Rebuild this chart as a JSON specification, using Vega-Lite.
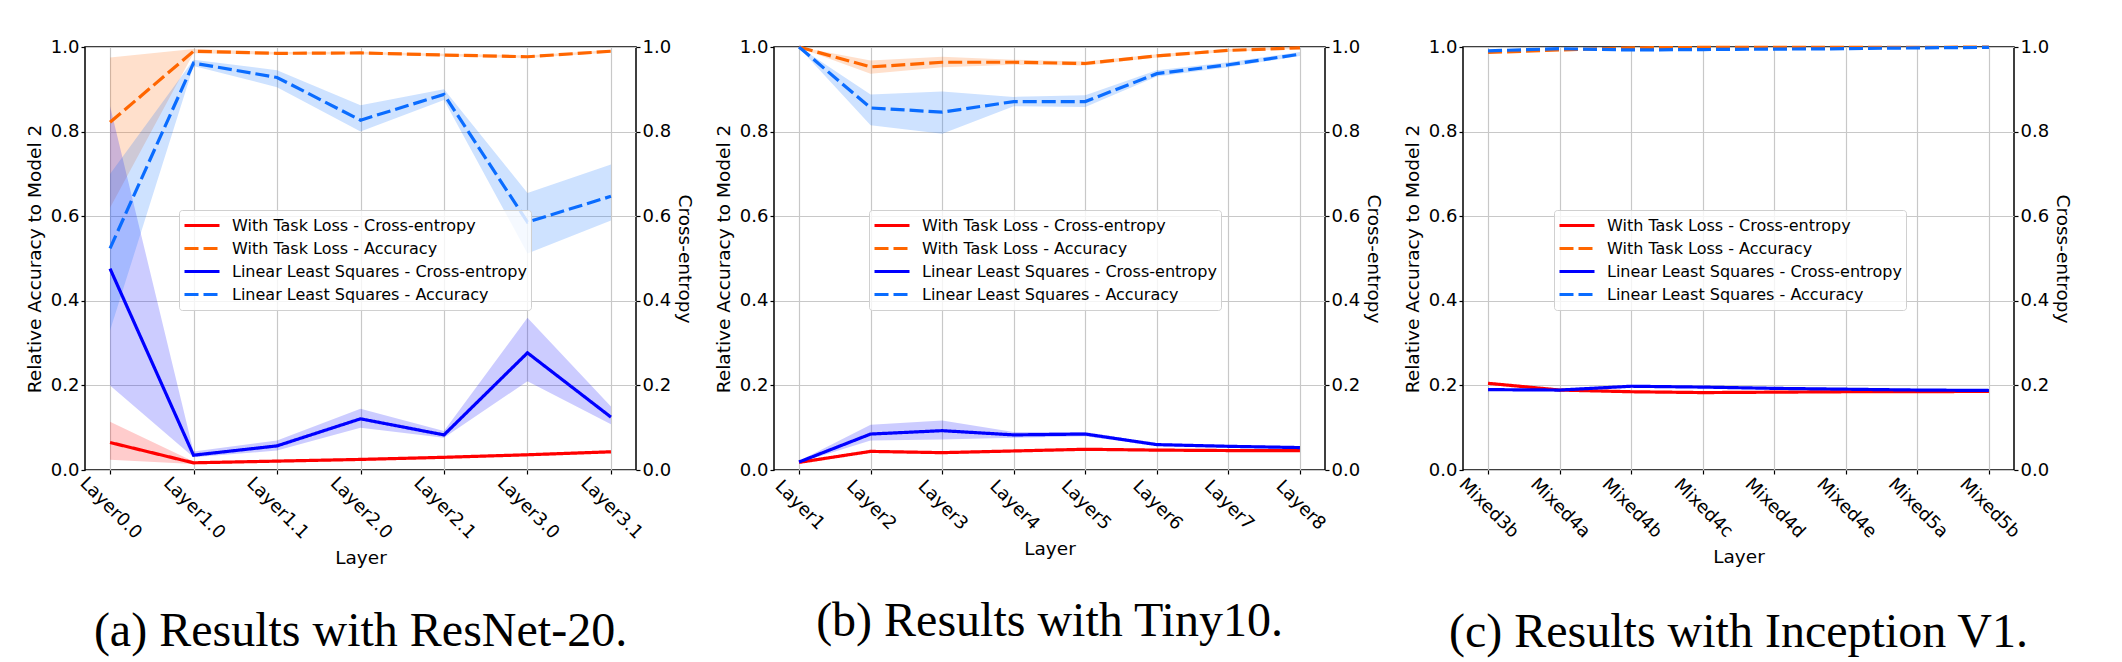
{
  "$schema": "https://vega.github.io/schema/vega-lite/v6.json",
  "background": "white",
  "padding": {"left": 24, "top": 37, "right": 5, "bottom": 0},
  "autosize": {"type": "pad"},
  "config": {
    "view": {"stroke": "#000000", "strokeWidth": 1.5},
    "axis": {
      "labelFont": "DejaVu Sans", "labelFontSize": 18, "labelColor": "#000000",
      "titleFont": "DejaVu Sans", "titleFontSize": 18.5, "titleFontWeight": "normal", "titleColor": "#000000",
      "tickColor": "#000000", "tickSize": 4, "tickWidth": 1.2, "domain": false,
      "gridColor": "#c8c8c8", "gridWidth": 1.2
    },
    "legend": {
      "labelFont": "DejaVu Sans", "labelFontSize": 16, "labelColor": "#000000", "labelLimit": 0,
      "fillColor": "rgba(255,255,255,0.8)", "strokeColor": "#d0d0d0", "cornerRadius": 3, "padding": 4,
      "symbolType": "stroke", "symbolSize": 1225, "symbolStrokeWidth": 3, "symbolOpacity": 1, "labelOffset": 11, "rowPadding": 0, "clipHeight": 23
    }
  },
  "datasets": {
    "rows": [
      {"p": "a", "layer": "Layer0.0", "s": "With Task Loss - Cross-entropy", "v": 0.065, "lo": 0.024, "hi": 0.114},
      {"p": "a", "layer": "Layer1.0", "s": "With Task Loss - Cross-entropy", "v": 0.017, "lo": 0.014, "hi": 0.020},
      {"p": "a", "layer": "Layer1.1", "s": "With Task Loss - Cross-entropy", "v": 0.021, "lo": 0.018, "hi": 0.024},
      {"p": "a", "layer": "Layer2.0", "s": "With Task Loss - Cross-entropy", "v": 0.025, "lo": 0.022, "hi": 0.028},
      {"p": "a", "layer": "Layer2.1", "s": "With Task Loss - Cross-entropy", "v": 0.030, "lo": 0.027, "hi": 0.033},
      {"p": "a", "layer": "Layer3.0", "s": "With Task Loss - Cross-entropy", "v": 0.036, "lo": 0.033, "hi": 0.039},
      {"p": "a", "layer": "Layer3.1", "s": "With Task Loss - Cross-entropy", "v": 0.043, "lo": 0.040, "hi": 0.046},
      {"p": "a", "layer": "Layer0.0", "s": "With Task Loss - Accuracy", "v": 0.822, "lo": 0.62, "hi": 0.975},
      {"p": "a", "layer": "Layer1.0", "s": "With Task Loss - Accuracy", "v": 0.990, "lo": 0.985, "hi": 0.995},
      {"p": "a", "layer": "Layer1.1", "s": "With Task Loss - Accuracy", "v": 0.985, "lo": 0.982, "hi": 0.988},
      {"p": "a", "layer": "Layer2.0", "s": "With Task Loss - Accuracy", "v": 0.986, "lo": 0.983, "hi": 0.989},
      {"p": "a", "layer": "Layer2.1", "s": "With Task Loss - Accuracy", "v": 0.981, "lo": 0.978, "hi": 0.984},
      {"p": "a", "layer": "Layer3.0", "s": "With Task Loss - Accuracy", "v": 0.977, "lo": 0.974, "hi": 0.980},
      {"p": "a", "layer": "Layer3.1", "s": "With Task Loss - Accuracy", "v": 0.990, "lo": 0.987, "hi": 0.993},
      {"p": "a", "layer": "Layer0.0", "s": "Linear Least Squares - Cross-entropy", "v": 0.476, "lo": 0.20, "hi": 0.86},
      {"p": "a", "layer": "Layer1.0", "s": "Linear Least Squares - Cross-entropy", "v": 0.035, "lo": 0.030, "hi": 0.044},
      {"p": "a", "layer": "Layer1.1", "s": "Linear Least Squares - Cross-entropy", "v": 0.057, "lo": 0.046, "hi": 0.070},
      {"p": "a", "layer": "Layer2.0", "s": "Linear Least Squares - Cross-entropy", "v": 0.121, "lo": 0.100, "hi": 0.145},
      {"p": "a", "layer": "Layer2.1", "s": "Linear Least Squares - Cross-entropy", "v": 0.083, "lo": 0.076, "hi": 0.092},
      {"p": "a", "layer": "Layer3.0", "s": "Linear Least Squares - Cross-entropy", "v": 0.277, "lo": 0.210, "hi": 0.360},
      {"p": "a", "layer": "Layer3.1", "s": "Linear Least Squares - Cross-entropy", "v": 0.125, "lo": 0.108, "hi": 0.150},
      {"p": "a", "layer": "Layer0.0", "s": "Linear Least Squares - Accuracy", "v": 0.524, "lo": 0.33, "hi": 0.70},
      {"p": "a", "layer": "Layer1.0", "s": "Linear Least Squares - Accuracy", "v": 0.962, "lo": 0.955, "hi": 0.970},
      {"p": "a", "layer": "Layer1.1", "s": "Linear Least Squares - Accuracy", "v": 0.928, "lo": 0.905, "hi": 0.945},
      {"p": "a", "layer": "Layer2.0", "s": "Linear Least Squares - Accuracy", "v": 0.827, "lo": 0.800, "hi": 0.862},
      {"p": "a", "layer": "Layer2.1", "s": "Linear Least Squares - Accuracy", "v": 0.888, "lo": 0.875, "hi": 0.900},
      {"p": "a", "layer": "Layer3.0", "s": "Linear Least Squares - Accuracy", "v": 0.586, "lo": 0.512, "hi": 0.655},
      {"p": "a", "layer": "Layer3.1", "s": "Linear Least Squares - Accuracy", "v": 0.647, "lo": 0.590, "hi": 0.722},

      {"p": "b", "layer": "Layer1", "s": "With Task Loss - Cross-entropy", "v": 0.018, "lo": 0.016, "hi": 0.020},
      {"p": "b", "layer": "Layer2", "s": "With Task Loss - Cross-entropy", "v": 0.044, "lo": 0.041, "hi": 0.047},
      {"p": "b", "layer": "Layer3", "s": "With Task Loss - Cross-entropy", "v": 0.041, "lo": 0.038, "hi": 0.044},
      {"p": "b", "layer": "Layer4", "s": "With Task Loss - Cross-entropy", "v": 0.045, "lo": 0.042, "hi": 0.048},
      {"p": "b", "layer": "Layer5", "s": "With Task Loss - Cross-entropy", "v": 0.049, "lo": 0.046, "hi": 0.052},
      {"p": "b", "layer": "Layer6", "s": "With Task Loss - Cross-entropy", "v": 0.047, "lo": 0.044, "hi": 0.050},
      {"p": "b", "layer": "Layer7", "s": "With Task Loss - Cross-entropy", "v": 0.046, "lo": 0.043, "hi": 0.049},
      {"p": "b", "layer": "Layer8", "s": "With Task Loss - Cross-entropy", "v": 0.046, "lo": 0.043, "hi": 0.049},
      {"p": "b", "layer": "Layer1", "s": "With Task Loss - Accuracy", "v": 1.0, "lo": 0.998, "hi": 1.0},
      {"p": "b", "layer": "Layer2", "s": "With Task Loss - Accuracy", "v": 0.953, "lo": 0.937, "hi": 0.968},
      {"p": "b", "layer": "Layer3", "s": "With Task Loss - Accuracy", "v": 0.964, "lo": 0.952, "hi": 0.977},
      {"p": "b", "layer": "Layer4", "s": "With Task Loss - Accuracy", "v": 0.964, "lo": 0.958, "hi": 0.970},
      {"p": "b", "layer": "Layer5", "s": "With Task Loss - Accuracy", "v": 0.961, "lo": 0.956, "hi": 0.966},
      {"p": "b", "layer": "Layer6", "s": "With Task Loss - Accuracy", "v": 0.979, "lo": 0.975, "hi": 0.983},
      {"p": "b", "layer": "Layer7", "s": "With Task Loss - Accuracy", "v": 0.992, "lo": 0.989, "hi": 0.995},
      {"p": "b", "layer": "Layer8", "s": "With Task Loss - Accuracy", "v": 0.998, "lo": 0.996, "hi": 1.0},
      {"p": "b", "layer": "Layer1", "s": "Linear Least Squares - Cross-entropy", "v": 0.019, "lo": 0.017, "hi": 0.021},
      {"p": "b", "layer": "Layer2", "s": "Linear Least Squares - Cross-entropy", "v": 0.085, "lo": 0.070, "hi": 0.107},
      {"p": "b", "layer": "Layer3", "s": "Linear Least Squares - Cross-entropy", "v": 0.093, "lo": 0.072, "hi": 0.117},
      {"p": "b", "layer": "Layer4", "s": "Linear Least Squares - Cross-entropy", "v": 0.083, "lo": 0.076, "hi": 0.090},
      {"p": "b", "layer": "Layer5", "s": "Linear Least Squares - Cross-entropy", "v": 0.085, "lo": 0.080, "hi": 0.090},
      {"p": "b", "layer": "Layer6", "s": "Linear Least Squares - Cross-entropy", "v": 0.060, "lo": 0.057, "hi": 0.063},
      {"p": "b", "layer": "Layer7", "s": "Linear Least Squares - Cross-entropy", "v": 0.056, "lo": 0.053, "hi": 0.059},
      {"p": "b", "layer": "Layer8", "s": "Linear Least Squares - Cross-entropy", "v": 0.053, "lo": 0.050, "hi": 0.056},
      {"p": "b", "layer": "Layer1", "s": "Linear Least Squares - Accuracy", "v": 1.0, "lo": 0.998, "hi": 1.0},
      {"p": "b", "layer": "Layer2", "s": "Linear Least Squares - Accuracy", "v": 0.856, "lo": 0.815, "hi": 0.888},
      {"p": "b", "layer": "Layer3", "s": "Linear Least Squares - Accuracy", "v": 0.846, "lo": 0.795, "hi": 0.895},
      {"p": "b", "layer": "Layer4", "s": "Linear Least Squares - Accuracy", "v": 0.871, "lo": 0.860, "hi": 0.882},
      {"p": "b", "layer": "Layer5", "s": "Linear Least Squares - Accuracy", "v": 0.871, "lo": 0.858, "hi": 0.886},
      {"p": "b", "layer": "Layer6", "s": "Linear Least Squares - Accuracy", "v": 0.937, "lo": 0.930, "hi": 0.945},
      {"p": "b", "layer": "Layer7", "s": "Linear Least Squares - Accuracy", "v": 0.958, "lo": 0.952, "hi": 0.964},
      {"p": "b", "layer": "Layer8", "s": "Linear Least Squares - Accuracy", "v": 0.983, "lo": 0.979, "hi": 0.988},

      {"p": "c", "layer": "Mixed3b", "s": "With Task Loss - Cross-entropy", "v": 0.205},
      {"p": "c", "layer": "Mixed4a", "s": "With Task Loss - Cross-entropy", "v": 0.189},
      {"p": "c", "layer": "Mixed4b", "s": "With Task Loss - Cross-entropy", "v": 0.185},
      {"p": "c", "layer": "Mixed4c", "s": "With Task Loss - Cross-entropy", "v": 0.183},
      {"p": "c", "layer": "Mixed4d", "s": "With Task Loss - Cross-entropy", "v": 0.184},
      {"p": "c", "layer": "Mixed4e", "s": "With Task Loss - Cross-entropy", "v": 0.185},
      {"p": "c", "layer": "Mixed5a", "s": "With Task Loss - Cross-entropy", "v": 0.185},
      {"p": "c", "layer": "Mixed5b", "s": "With Task Loss - Cross-entropy", "v": 0.186},
      {"p": "c", "layer": "Mixed3b", "s": "With Task Loss - Accuracy", "v": 0.987},
      {"p": "c", "layer": "Mixed4a", "s": "With Task Loss - Accuracy", "v": 0.993},
      {"p": "c", "layer": "Mixed4b", "s": "With Task Loss - Accuracy", "v": 0.998},
      {"p": "c", "layer": "Mixed4c", "s": "With Task Loss - Accuracy", "v": 0.999},
      {"p": "c", "layer": "Mixed4d", "s": "With Task Loss - Accuracy", "v": 0.999},
      {"p": "c", "layer": "Mixed4e", "s": "With Task Loss - Accuracy", "v": 0.999},
      {"p": "c", "layer": "Mixed5a", "s": "With Task Loss - Accuracy", "v": 0.999},
      {"p": "c", "layer": "Mixed5b", "s": "With Task Loss - Accuracy", "v": 1.0},
      {"p": "c", "layer": "Mixed3b", "s": "Linear Least Squares - Cross-entropy", "v": 0.190},
      {"p": "c", "layer": "Mixed4a", "s": "Linear Least Squares - Cross-entropy", "v": 0.189},
      {"p": "c", "layer": "Mixed4b", "s": "Linear Least Squares - Cross-entropy", "v": 0.198},
      {"p": "c", "layer": "Mixed4c", "s": "Linear Least Squares - Cross-entropy", "v": 0.196},
      {"p": "c", "layer": "Mixed4d", "s": "Linear Least Squares - Cross-entropy", "v": 0.193},
      {"p": "c", "layer": "Mixed4e", "s": "Linear Least Squares - Cross-entropy", "v": 0.191},
      {"p": "c", "layer": "Mixed5a", "s": "Linear Least Squares - Cross-entropy", "v": 0.189},
      {"p": "c", "layer": "Mixed5b", "s": "Linear Least Squares - Cross-entropy", "v": 0.188},
      {"p": "c", "layer": "Mixed3b", "s": "Linear Least Squares - Accuracy", "v": 0.991},
      {"p": "c", "layer": "Mixed4a", "s": "Linear Least Squares - Accuracy", "v": 0.996},
      {"p": "c", "layer": "Mixed4b", "s": "Linear Least Squares - Accuracy", "v": 0.993},
      {"p": "c", "layer": "Mixed4c", "s": "Linear Least Squares - Accuracy", "v": 0.994},
      {"p": "c", "layer": "Mixed4d", "s": "Linear Least Squares - Accuracy", "v": 0.995},
      {"p": "c", "layer": "Mixed4e", "s": "Linear Least Squares - Accuracy", "v": 0.996},
      {"p": "c", "layer": "Mixed5a", "s": "Linear Least Squares - Accuracy", "v": 0.998},
      {"p": "c", "layer": "Mixed5b", "s": "Linear Least Squares - Accuracy", "v": 0.999}
    ]
  },
  "data": {"name": "rows"},
  "spacing": 138,
  "bounds": "flush",
  "resolve": {
    "scale": {"color": "independent", "strokeDash": "independent", "x": "independent"},
    "legend": {"color": "independent", "strokeDash": "independent"}
  },
  "hconcat": [
    {
      "width": 551, "height": 423,
      "title": {"text": "(a) Results with ResNet-20.", "orient": "bottom", "anchor": "middle", "font": "Liberation Serif", "fontSize": 48, "fontWeight": "normal", "color": "#000000", "offset": 41},
      "transform": [{"filter": "datum.p == 'a'"}],
      "encoding": {
        "x": {"field": "layer", "type": "ordinal", "title": "Layer",
          "scale": {"type": "point", "padding": 0.3, "domain": ["Layer0.0", "Layer1.0", "Layer1.1", "Layer2.0", "Layer2.1", "Layer3.0", "Layer3.1"]},
          "axis": {"labelAngle": 45, "labelAlign": "center", "labelBaseline": "middle", "labelPadding": 34, "grid": true, "titlePadding": 6}}
      },
      "layer": [
        {"transform": [{"filter": "isValid(datum.lo)"}], "mark": {"type": "area", "opacity": 0.2},
          "encoding": {
            "y": {"field": "lo", "type": "quantitative", "scale": {"domain": [0, 1]}, "axis": null},
            "y2": {"field": "hi"},
            "color": {"field": "s", "type": "nominal", "scale": {"domain": ["With Task Loss - Cross-entropy", "With Task Loss - Accuracy", "Linear Least Squares - Cross-entropy", "Linear Least Squares - Accuracy"], "range": ["#ff0000", "#ff6600", "#0000ff", "#0a6cff"]}, "legend": {"title": null, "orient": "none", "legendX": 94, "legendY": 163}}
          }},
        {"transform": [{"filter": {"field": "s", "oneOf": ["With Task Loss - Accuracy", "Linear Least Squares - Accuracy"]}}], "mark": {"type": "line", "strokeWidth": 3.2},
          "encoding": {
            "y": {"field": "v", "type": "quantitative", "scale": {"domain": [0, 1]}, "axis": {"orient": "left", "title": "Relative Accuracy to Model 2", "values": [0, 0.2, 0.4, 0.6, 0.8, 1.0], "format": ".1f", "grid": true, "labelPadding": 2, "titlePadding": 6}},
            "color": {"field": "s", "type": "nominal"},
            "strokeDash": {"field": "s", "type": "nominal", "scale": {"domain": ["With Task Loss - Cross-entropy", "With Task Loss - Accuracy", "Linear Least Squares - Cross-entropy", "Linear Least Squares - Accuracy"], "range": [[1, 0], [14, 5], [1, 0], [14, 5]]}, "legend": {"title": null, "orient": "none", "legendX": 94, "legendY": 163}}
          }},
        {"transform": [{"filter": {"field": "s", "oneOf": ["With Task Loss - Cross-entropy", "Linear Least Squares - Cross-entropy"]}}], "mark": {"type": "line", "strokeWidth": 3.2},
          "encoding": {
            "y": {"field": "v", "type": "quantitative", "scale": {"domain": [0, 1]}, "axis": {"orient": "right", "title": "Cross-entropy", "values": [0, 0.2, 0.4, 0.6, 0.8, 1.0], "format": ".1f", "grid": false, "labelPadding": 2, "titlePadding": 4}},
            "color": {"field": "s", "type": "nominal"},
            "strokeDash": {"field": "s", "type": "nominal"}
          }}
      ],
      "resolve": {"scale": {"y": "independent"}}
    },
    {
      "width": 551, "height": 423,
      "title": {"text": "(b) Results with Tiny10.", "orient": "bottom", "anchor": "middle", "font": "Liberation Serif", "fontSize": 48, "fontWeight": "normal", "color": "#000000", "offset": 40},
      "transform": [{"filter": "datum.p == 'b'"}],
      "encoding": {
        "x": {"field": "layer", "type": "ordinal", "title": "Layer",
          "scale": {"type": "point", "padding": 0.35, "domain": ["Layer1", "Layer2", "Layer3", "Layer4", "Layer5", "Layer6", "Layer7", "Layer8"]},
          "axis": {"labelAngle": 45, "labelAlign": "center", "labelBaseline": "middle", "labelPadding": 31, "grid": true, "titlePadding": 6}}
      },
      "layer": [
        {"transform": [{"filter": "isValid(datum.lo)"}], "mark": {"type": "area", "opacity": 0.2},
          "encoding": {
            "y": {"field": "lo", "type": "quantitative", "scale": {"domain": [0, 1]}, "axis": null},
            "y2": {"field": "hi"},
            "color": {"field": "s", "type": "nominal", "scale": {"domain": ["With Task Loss - Cross-entropy", "With Task Loss - Accuracy", "Linear Least Squares - Cross-entropy", "Linear Least Squares - Accuracy"], "range": ["#ff0000", "#ff6600", "#0000ff", "#0a6cff"]}, "legend": {"title": null, "orient": "none", "legendX": 95, "legendY": 163}}
          }},
        {"transform": [{"filter": {"field": "s", "oneOf": ["With Task Loss - Accuracy", "Linear Least Squares - Accuracy"]}}], "mark": {"type": "line", "strokeWidth": 3.2},
          "encoding": {
            "y": {"field": "v", "type": "quantitative", "scale": {"domain": [0, 1]}, "axis": {"orient": "left", "title": "Relative Accuracy to Model 2", "values": [0, 0.2, 0.4, 0.6, 0.8, 1.0], "format": ".1f", "grid": true, "labelPadding": 2, "titlePadding": 6}},
            "color": {"field": "s", "type": "nominal"},
            "strokeDash": {"field": "s", "type": "nominal", "scale": {"domain": ["With Task Loss - Cross-entropy", "With Task Loss - Accuracy", "Linear Least Squares - Cross-entropy", "Linear Least Squares - Accuracy"], "range": [[1, 0], [14, 5], [1, 0], [14, 5]]}, "legend": {"title": null, "orient": "none", "legendX": 95, "legendY": 163}}
          }},
        {"transform": [{"filter": {"field": "s", "oneOf": ["With Task Loss - Cross-entropy", "Linear Least Squares - Cross-entropy"]}}], "mark": {"type": "line", "strokeWidth": 3.2},
          "encoding": {
            "y": {"field": "v", "type": "quantitative", "scale": {"domain": [0, 1]}, "axis": {"orient": "right", "title": "Cross-entropy", "values": [0, 0.2, 0.4, 0.6, 0.8, 1.0], "format": ".1f", "grid": false, "labelPadding": 2, "titlePadding": 4}},
            "color": {"field": "s", "type": "nominal"},
            "strokeDash": {"field": "s", "type": "nominal"}
          }}
      ],
      "resolve": {"scale": {"y": "independent"}}
    },
    {
      "width": 551, "height": 423,
      "title": {"text": "(c) Results with Inception V1.", "orient": "bottom", "anchor": "middle", "font": "Liberation Serif", "fontSize": 48, "fontWeight": "normal", "color": "#000000", "offset": 43},
      "transform": [{"filter": "datum.p == 'c'"}],
      "encoding": {
        "x": {"field": "layer", "type": "ordinal", "title": "Layer",
          "scale": {"type": "point", "padding": 0.35, "domain": ["Mixed3b", "Mixed4a", "Mixed4b", "Mixed4c", "Mixed4d", "Mixed4e", "Mixed5a", "Mixed5b"]},
          "axis": {"labelAngle": 45, "labelAlign": "center", "labelBaseline": "middle", "labelPadding": 34, "grid": true, "titlePadding": 6}}
      },
      "layer": [
        {"transform": [{"filter": {"field": "s", "oneOf": ["With Task Loss - Accuracy", "Linear Least Squares - Accuracy"]}}], "mark": {"type": "line", "strokeWidth": 3.2},
          "encoding": {
            "y": {"field": "v", "type": "quantitative", "scale": {"domain": [0, 1]}, "axis": {"orient": "left", "title": "Relative Accuracy to Model 2", "values": [0, 0.2, 0.4, 0.6, 0.8, 1.0], "format": ".1f", "grid": true, "labelPadding": 2, "titlePadding": 6}},
            "color": {"field": "s", "type": "nominal", "scale": {"domain": ["With Task Loss - Cross-entropy", "With Task Loss - Accuracy", "Linear Least Squares - Cross-entropy", "Linear Least Squares - Accuracy"], "range": ["#ff0000", "#ff6600", "#0000ff", "#0a6cff"]}, "legend": {"title": null, "orient": "none", "legendX": 91, "legendY": 163}},
            "strokeDash": {"field": "s", "type": "nominal", "scale": {"domain": ["With Task Loss - Cross-entropy", "With Task Loss - Accuracy", "Linear Least Squares - Cross-entropy", "Linear Least Squares - Accuracy"], "range": [[1, 0], [14, 5], [1, 0], [14, 5]]}, "legend": {"title": null, "orient": "none", "legendX": 91, "legendY": 163}}
          }},
        {"transform": [{"filter": {"field": "s", "oneOf": ["With Task Loss - Cross-entropy", "Linear Least Squares - Cross-entropy"]}}], "mark": {"type": "line", "strokeWidth": 3.2},
          "encoding": {
            "y": {"field": "v", "type": "quantitative", "scale": {"domain": [0, 1]}, "axis": {"orient": "right", "title": "Cross-entropy", "values": [0, 0.2, 0.4, 0.6, 0.8, 1.0], "format": ".1f", "grid": false, "labelPadding": 2, "titlePadding": 4}},
            "color": {"field": "s", "type": "nominal"},
            "strokeDash": {"field": "s", "type": "nominal"}
          }}
      ],
      "resolve": {"scale": {"y": "independent"}}
    }
  ]
}
